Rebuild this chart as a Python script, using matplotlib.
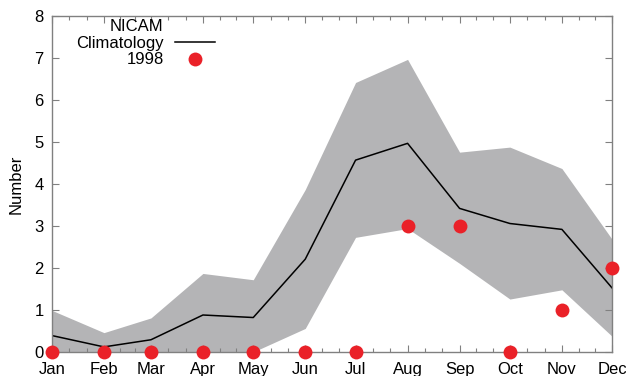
import numpy as np
import matplotlib.pyplot as plt
from matplotlib.lines import Line2D

plt.rcParams['font.family'] = ['Liberation Sans', 'DejaVu Sans']

# x positions are day-of-year of the first of each month
months = ['Jan', 'Feb', 'Mar', 'Apr', 'May', 'Jun', 'Jul', 'Aug', 'Sep', 'Oct', 'Nov', 'Dec']
day_of_year = [1, 32, 60, 91, 121, 152, 182, 213, 244, 274, 305, 335]

clim_mean = [0.39, 0.12, 0.29, 0.88, 0.82, 2.21, 4.57, 4.97, 3.42, 3.06, 2.92, 1.52]
clim_upper = [0.99, 0.46, 0.81, 1.87, 1.72, 3.87, 6.42, 6.97, 4.76, 4.88, 4.37, 2.68]
clim_lower = [0.0, 0.0, 0.0, 0.0, 0.0, 0.56, 2.73, 2.94, 2.11, 1.26, 1.48, 0.37]
count_1998 = [0, 0, 0, 0, 0, 0, 0, 3, 3, 0, 1, 2]

fig = plt.figure(figsize=(6.26, 3.76), dpi=100)
ax = fig.add_axes([0.083, 0.064, 0.895, 0.893])

ax.fill_between(day_of_year, clim_lower, clim_upper, color='#b4b4b6', linewidth=0, zorder=1)
clim_line, = ax.plot(day_of_year, clim_mean, color='black', linewidth=1.1, zorder=2)
dots, = ax.plot(day_of_year, count_1998, linestyle='none', marker='o', markersize=10,
                color='#ea2128', markeredgewidth=0, clip_on=False, zorder=3)

ax.set_xlim(day_of_year[0], day_of_year[-1])
ax.set_ylim(0, 8)
ax.set_xticks(day_of_year)
ax.set_xticklabels(months)
minor = []
for a, b in zip(day_of_year[:-1], day_of_year[1:]):
    minor += list(np.linspace(a, b, 4)[1:-1])
ax.set_xticks(minor, minor=True)
ax.set_yticks(range(0, 9))

ax.tick_params(which='both', direction='in', top=True, right=True, color='#808080',
               labelsize=12)
ax.tick_params(axis='x', pad=7)
ax.tick_params(axis='y', pad=6)
ax.tick_params(which='major', length=5, width=0.8)
ax.tick_params(which='minor', length=3, width=0.8)
for s in ax.spines.values():
    s.set_color('#808080')
    s.set_linewidth(1.0)

ax.set_ylabel('Number', fontsize=12, labelpad=8)

# key: header row without a sample, labels right-aligned left of the samples
blank = Line2D([], [], linestyle='none')
leg = ax.legend([blank, clim_line, dots], ['NICAM', 'Climatology', '1998'],
                loc='upper left', bbox_to_anchor=(0.022, 1.026),
                markerfirst=False, frameon=False, fontsize=12,
                handlelength=2.4, handletextpad=0.7, labelspacing=0.1, borderpad=0.2)
for t in leg.get_texts():
    t.set_ha('right')

fig.savefig('out.png', dpi=100)
